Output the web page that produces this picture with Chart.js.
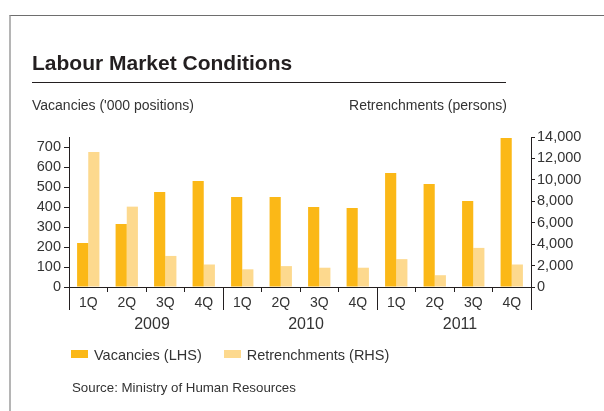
<!DOCTYPE html>
<html>
<head>
<meta charset="utf-8">
<script src="https://cdn.jsdelivr.net/npm/chart.js@4"></script>
<style>
  body { margin: 0; background: #fff; font-family: "Liberation Sans", Arial, sans-serif; color: #333; }
  #wrap { position: relative; width: 604px; height: 411px; overflow: hidden; }
  #frame { position: absolute; left: 9px; top: 15px; width: 700px; height: 500px;
           border-top: 1px solid #6e6e6e; border-left: 2px solid #b5b5b5; }
  canvas { position: absolute; left: 0; top: 0; }
  .txt { position: absolute; white-space: nowrap; line-height: 1; }
  #title { left: 32px; top: 52px; font-size: 21px; font-weight: bold; color: #231f20; }
  #rule { position: absolute; left: 32px; top: 82px; width: 474px; height: 1px; background: #231f20; }
  #ltitle { left: 32px; top: 98px; font-size: 14px; }
  #rtitle { right: 97px; top: 98px; font-size: 14px; }
  #legend { left: 71px; top: 348px; font-size: 14.5px; }
  #legend span.box { display: inline-block; width: 17px; height: 8px; vertical-align: 2px; margin-right: 6px; }
  #legend span.item { margin-right: 22px; }
  #source { left: 72px; top: 381px; font-size: 13.3px; }
</style>
</head>
<body>
<div id="wrap">
  <div id="frame"></div>
  <canvas id="miGrafico" width="604" height="411"></canvas>
  <div class="txt" id="title">Labour Market Conditions</div>
  <div id="rule"></div>
  <div class="txt" id="ltitle">Vacancies ('000 positions)</div>
  <div class="txt" id="rtitle">Retrenchments (persons)</div>
  <div class="txt" id="legend"></div>
  <div class="txt" id="source">Source: Ministry of Human Resources</div>
</div>
<script>
// datos
const quarters = ['1Q', '2Q', '3Q', '4Q', '1Q', '2Q', '3Q', '4Q', '1Q', '2Q', '3Q', '4Q'];
const years = ['2009', '2010', '2011'];
const vacancies = [220, 315, 475, 530, 450, 450, 400, 395, 570, 515, 430, 745];
const retrenchments = [12600, 7500, 2900, 2100, 1650, 1950, 1800, 1800, 2600, 1100, 3650, 2100];
const leftTicks = [0, 100, 200, 300, 400, 500, 600, 700];
const rightTicks = [0, 2000, 4000, 6000, 8000, 10000, 12000, 14000];

const colorVac = '#fbb817';
const colorRet = '#fdd98e';

Chart.defaults.font.family = '"Liberation Sans", Arial, sans-serif';
Chart.defaults.color = '#333';

// lineas de separacion de años y etiquetas de año
const yearPlugin = {
  id: 'years',
  afterDraw(chart) {
    const ctx = chart.ctx;
    const x = chart.scales.x;
    const half = (x.getPixelForValue(1) - x.getPixelForValue(0)) / 2;
    const per = quarters.length / years.length;
    ctx.save();
    ctx.strokeStyle = '#231f20';
    ctx.lineWidth = 1;
    for (let i = 0; i <= years.length; i++) {
      const px = Math.round(x.getPixelForValue(i * per) - half) + 0.5;
      ctx.beginPath();
      ctx.moveTo(px, x.top);
      ctx.lineTo(px, x.top + 23);
      ctx.stroke();
    }
    ctx.fillStyle = '#333';
    ctx.font = '16px "Liberation Sans", Arial, sans-serif';
    ctx.textAlign = 'center';
    ctx.textBaseline = 'middle';
    years.forEach((y, i) => {
      // en el original el año queda un poco a la derecha del centro del grupo
      const cx = (x.getPixelForValue(i * per) + x.getPixelForValue(i * per + per - 1)) / 2 + 6;
      ctx.fillText(y, cx, x.top + 38);
    });
    ctx.restore();
  }
};

const ctx = document.getElementById('miGrafico').getContext('2d');
const miGrafico = new Chart(ctx, {
  type: 'bar',
  data: {
    labels: quarters,
    datasets: [{
      label: 'Vacancies (LHS)',
      data: vacancies,
      backgroundColor: colorVac,
      yAxisID: 'y'
    }, {
      label: 'Retrenchments (RHS)',
      data: retrenchments,
      backgroundColor: colorRet,
      yAxisID: 'y1'
    }]
  },
  options: {
    responsive: false,
    animation: false,
    datasets: { bar: { categoryPercentage: 0.58, barPercentage: 1 } },
    layout: { padding: { top: 137, bottom: 74, left: 0, right: 0 } },
    plugins: { legend: { display: false }, tooltip: { enabled: false } },
    scales: {
      x: {
        afterFit(s) { s.height = 50; },
        border: { color: '#231f20', width: 1 },
        grid: { drawOnChartArea: false, tickLength: 5, color: '#231f20', offset: true },
        ticks: { font: { size: 14 }, padding: 3, maxRotation: 0 }
      },
      y: {
        position: 'left',
        min: 0, max: 750,
        afterFit(s) { s.width = 69; },
        afterBuildTicks(s) { s.ticks = leftTicks.map(v => ({ value: v })); },
        border: { color: '#231f20', width: 1 },
        grid: { drawOnChartArea: false, tickLength: 5, color: '#231f20' },
        ticks: { font: { size: 14.5 }, padding: 3 }
      },
      y1: {
        position: 'right',
        min: 0, max: 14000,
        afterFit(s) { s.width = 73; },
        afterBuildTicks(s) { s.ticks = rightTicks.map(v => ({ value: v })); },
        border: { color: '#231f20', width: 1 },
        grid: { drawOnChartArea: false, tickLength: 4, color: '#231f20' },
        ticks: { font: { size: 14.5 }, padding: 2 }
      }
    }
  },
  plugins: [yearPlugin]
});

// leyenda
const legend = document.getElementById('legend');
miGrafico.data.datasets.forEach(ds => {
  const item = document.createElement('span');
  item.className = 'item';
  const box = document.createElement('span');
  box.className = 'box';
  box.style.background = ds.backgroundColor;
  item.appendChild(box);
  item.appendChild(document.createTextNode(ds.label));
  legend.appendChild(item);
});
</script>
</body>
</html>
